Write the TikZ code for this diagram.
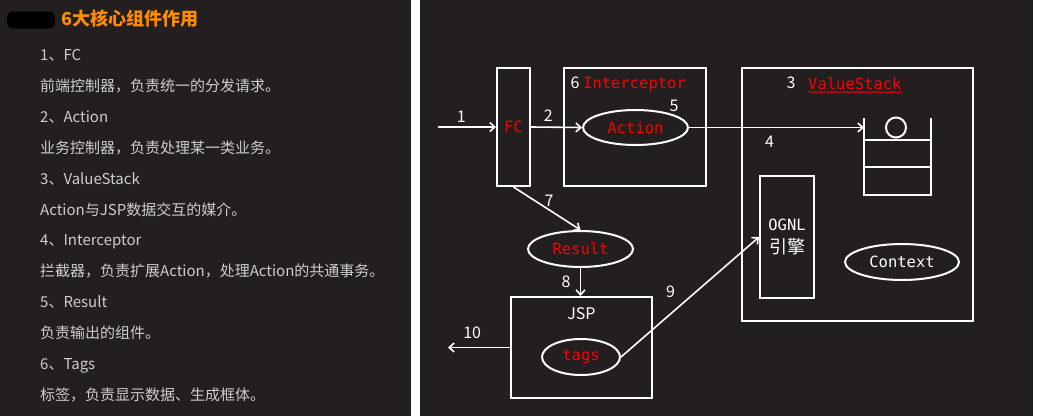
\documentclass[tikz,border=0pt]{standalone}
\usepackage{fontspec}
\usepackage{xcolor}
\usepackage{tikz}
\usetikzlibrary{arrows.meta,positioning,shapes.geometric,decorations.pathmorphing}
\newfontfamily\cjkfont{Noto Sans CJK SC}
\newfontfamily\monofont{DejaVu Sans Mono}
\definecolor{panelbg}{RGB}{35,31,32}
\definecolor{listgray}{RGB}{205,205,205}
\definecolor{titleorange}{RGB}{255,140,0}
\definecolor{flowred}{RGB}{255,0,0}

\begin{document}
\begin{tikzpicture}[
  x=1pt, y=-1pt,
  panel/.style={fill=panelbg, draw=none},
  item/.style={font=\cjkfont\fontsize{15}{17}\selectfont, text=listgray,
               inner sep=0pt, anchor=base west},
  box/.style={rectangle, draw=white, line width=2pt, inner sep=0pt},
  oval/.style={ellipse, draw=white, line width=2pt, inner sep=0pt},
  redtxt/.style={font=\monofont\fontsize{15.5}{18}\selectfont, text=flowred},
  whtxt/.style={font=\monofont\fontsize{15.5}{23}\selectfont, text=white},
  num/.style={font=\cjkfont\fontsize{16}{18}\selectfont, text=white, inner sep=0pt},
  arr/.style={-{Straight Barb[length=5pt,width=9pt]}, line width=1.6pt, white},
  squig/.style={flowred, line width=0.6pt, decorate,
                decoration={snake, amplitude=0.9pt, segment length=3.2pt}}
]
\useasboundingbox (0,0) rectangle (1037,416);
\fill[white] (0,0) rectangle (1037,416);
\fill[panel] (0,0) rectangle (411,416);
\fill[panel] (420,0) rectangle (1033,416);

% left panel: the list
\node[fill=black, rounded corners=6pt, minimum width=48pt, minimum height=17pt,
      inner sep=0pt] (blot) at (31,20) {};
\node[font=\cjkfont\bfseries\fontsize{18}{20}\selectfont, text=titleorange,
      anchor=west, inner sep=0pt] (title) at (61,19) {6大核心组件作用};
\node[item] (l1) at (40,60.5) {1、FC};
\node[below=30.9pt of l1.base west, item] (l2) {前端控制器，负责统一的分发请求。};
\node[below=30.9pt of l2.base west, item] (l3) {2、Action};
\node[below=30.9pt of l3.base west, item] (l4) {业务控制器，负责处理某一类业务。};
\node[below=30.9pt of l4.base west, item] (l5) {3、ValueStack};
\node[below=30.9pt of l5.base west, item] (l6) {Action与JSP数据交互的媒介。};
\node[below=30.9pt of l6.base west, item] (l7) {4、Interceptor};
\node[below=30.9pt of l7.base west, item] (l8) {拦截器，负责扩展Action，处理Action的共通事务。};
\node[below=30.9pt of l8.base west, item] (l9) {5、Result};
\node[below=30.9pt of l9.base west, item] (l10) {负责输出的组件。};
\node[below=30.9pt of l10.base west, item] (l11) {6、Tags};
\node[below=30.9pt of l11.base west, item] (l12) {标签，负责显示数据、生成框体。};

% right panel: the flow
\node[box, redtxt, minimum width=33pt, minimum height=118pt] (fc) at (513.5,127) {FC};
\node[box, minimum width=142pt, minimum height=118pt] (icp) at (635,127) {};
\node[oval, redtxt, minimum width=105pt, minimum height=35pt] (act) at (635.5,127.5) {Action};
\node[box, minimum width=231pt, minimum height=253pt] (vs) at (857.5,194.5) {};
\node[box, whtxt, align=center, minimum width=54pt, minimum height=122pt] (ognl)
  at (787,237) {OGNL\\{\cjkfont\fontsize{18}{23}\selectfont 引擎}};
\node[oval, whtxt, minimum width=114pt, minimum height=36pt] (ctx) at (902,262) {Context};
\node[oval, redtxt, minimum width=105pt, minimum height=36pt] (res) at (580.5,249) {Result};
\node[box, minimum width=141pt, minimum height=101pt] (jsp) at (581.5,347.5) {};
\node[num] (jsplbl) at ([yshift=-18pt]jsp.north) {JSP};
\node[oval, redtxt, minimum width=78pt, minimum height=36pt] (tags) at (581,357) {tags};

\node[num] (n6) at ([xshift=12pt,yshift=-16pt]icp.north west) {6};
\node[redtxt, anchor=west, inner sep=0pt] (icpname)
  at ([xshift=20pt,yshift=-17pt]icp.north west) {Interceptor};
\node[num] (n5) at ([xshift=38.5pt,yshift=3pt]act.north) {5};
\node[num] (n3) at ([xshift=50pt,yshift=-16pt]vs.north west) {3};
\node[redtxt, anchor=west, inner sep=0pt] (vsname)
  at ([xshift=67pt,yshift=-17pt]vs.north west) {ValueStack};
\draw[squig] ([yshift=-2pt]vsname.south west) -- ([yshift=-2pt]vsname.south east);

% the stack
\draw[white, line width=2pt] (864,118) -- (864,195) -- (931,195) -- (931,118);
\draw[white, line width=2pt] (864,140) -- (931,140) (864,167) -- (931,167);
\draw[white, line width=2pt] (896,127.5) circle (10pt);
\coordinate (stk) at (864,127.5);

\coordinate (in) at (438,127);
\coordinate (out) at (448,347.5);
\draw[arr] (in) -- node[num, pos=.4, yshift=10pt] {1} (fc.west);
\draw[arr] (fc.east) -- node[num, pos=.34, yshift=11pt] {2} (act.west);
\draw[arr] (act.east) -- node[num, pos=.46, yshift=-14.5pt] {4} (stk);
\draw[arr] (fc.south) -- node[num, pos=.5, xshift=2pt, yshift=7.5pt] {7} (res.north);
\draw[arr] (res.south) -- node[num, pos=.5, xshift=-14.5pt] {8} (res.south |- jsp.north);
\draw[arr] (tags.east) -- node[num, pos=.36, yshift=22pt] {9} (ognl.west);
\draw[arr] (jsp.west) -- node[num, pos=.61, yshift=14.5pt] {10} (out);
\end{tikzpicture}
\end{document}
